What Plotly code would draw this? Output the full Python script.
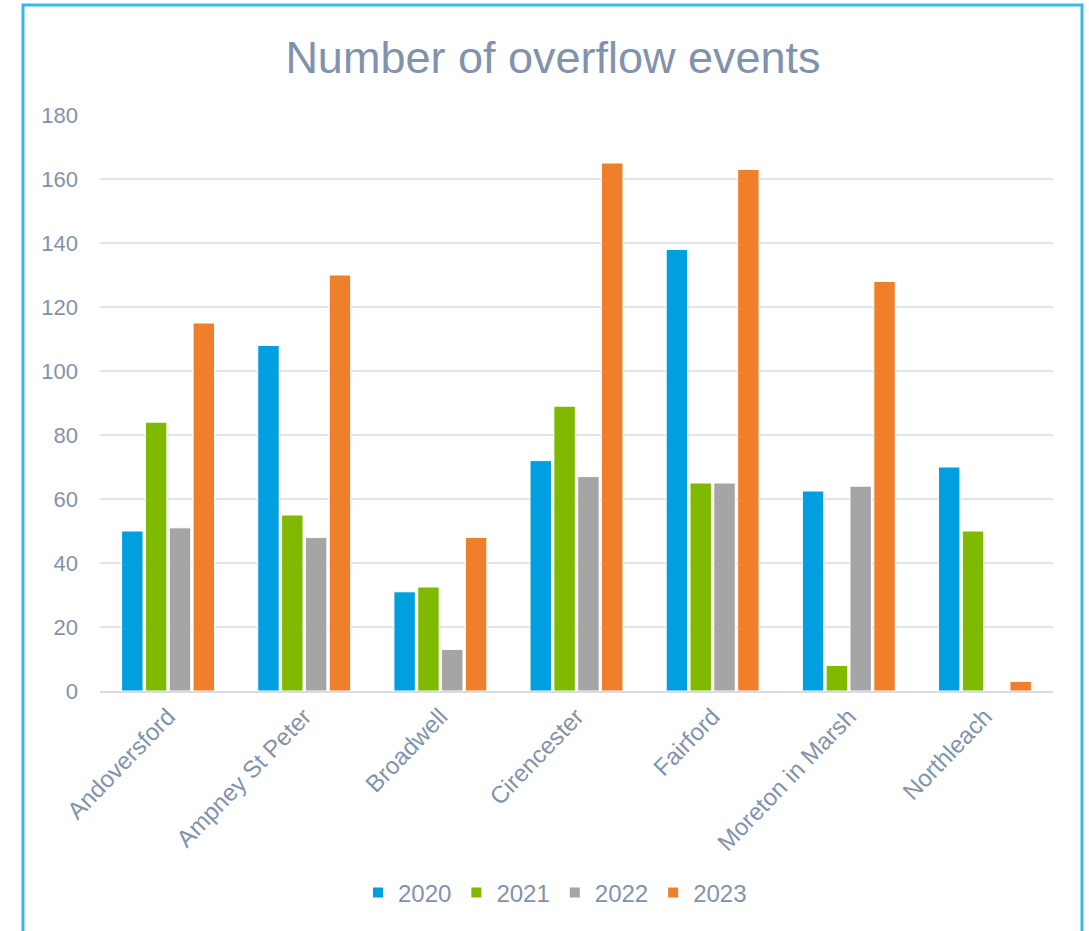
import plotly.graph_objects as go

categories = ["Andoversford", "Ampney St Peter", "Broadwell", "Cirencester",
              "Fairford", "Moreton in Marsh", "Northleach"]
years = ["2020", "2021", "2022", "2023"]
v2020 = [50, 108, 31, 72, 138, 62.5, 70]
v2021 = [84, 55, 32.5, 89, 65, 8, 50]
v2022 = [51, 48, 13, 67, 65, 64, 0]
v2023 = [115, 130, 48, 165, 163, 128, 3]
colors = ["#009FE0", "#7FBA00", "#A5A5A5", "#EF7F2A"]

series = [v2020, v2021, v2022, v2023]
text_color = "#8193AC"
font_family = "Liberation Sans, Arial, sans-serif"

fig = go.Figure()
for name, vals, col in zip(years, series, colors):
    fig.add_trace(go.Bar(
        x=categories, y=vals, name=name,
        marker=dict(color=col, line=dict(color="white", width=1)),
    ))

W, H = 1089, 931
L, R, T, B = 100, 36, 115, 240
pw, ph = W - L - R, H - T - B

def px_x(x):
    return (x - L) / pw

def px_y(y):
    return (H - B - y) / ph

fig.update_layout(
    width=W, height=H,
    margin=dict(l=L, r=R, t=T, b=B, autoexpand=False),
    paper_bgcolor="white", plot_bgcolor="white",
    barmode="group", bargap=0.30, bargroupgap=0.10,
    font=dict(family=font_family, color=text_color, size=22),
    title=dict(text="Number of overflow events", x=553 / W, xref="container",
               y=1 - 57 / H, yref="container", xanchor="center", yanchor="middle",
               font=dict(size=45, color=text_color, family=font_family)),
    legend=dict(orientation="h", x=px_x(555), y=px_y(893), xanchor="center",
                yanchor="middle", font=dict(size=24, color=text_color),
                itemsizing="constant", traceorder="normal", tracegroupgap=0),
    yaxis=dict(range=[0, 180], dtick=20, showgrid=True, gridcolor="#E1E5EA",
               gridwidth=2, zeroline=False, showline=False, ticks="",
               ticklabelstandoff=21, tickfont=dict(size=22, color=text_color)),
    xaxis=dict(showline=True, linecolor="#D9DDE3", linewidth=2, ticks="",
               tickangle=-46, tickfont=dict(size=24, color=text_color)),
    shapes=[dict(type="rect", xref="paper", yref="paper",
                 x0=px_x(23), x1=px_x(1082), y0=px_y(5), y1=px_y(960),
                 line=dict(color="#3DB5E7", width=3), layer="below")],
)

fig.write_html("out.html")
